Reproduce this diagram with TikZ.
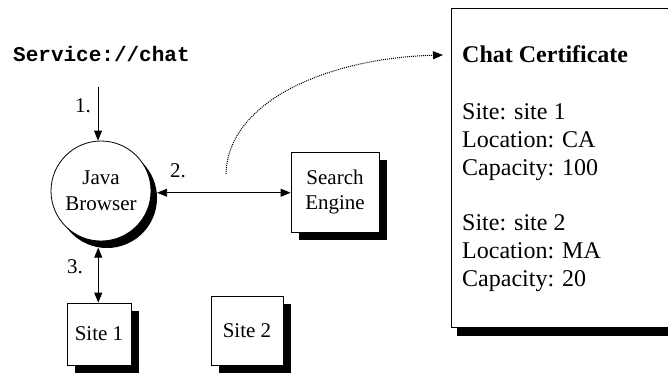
\documentclass[tikz,border=0pt]{standalone}
\usepackage{fontspec}
\setmainfont{Liberation Serif}
\newfontfamily\codefont{Liberation Mono}
\usetikzlibrary{arrows.meta,shadows}
\tikzset{
  tip/.tip={Triangle[length=10pt,width=8pt]},
  lbl/.style={font=\fontsize{21}{26}\selectfont, inner sep=0pt, anchor=base west},
  certline/.style={font=\fontsize{24}{28}\selectfont, inner sep=0pt, anchor=base west},
  outline/.style={draw, line width=0.8pt, fill=white},
  boxed/.style={outline, align=center, inner sep=0pt,
    font=\fontsize{21}{25}\selectfont,
    general shadow={fill=black, shadow xshift=8pt, shadow yshift=-8pt}},
  oneway/.style={line width=0.8pt, -tip},
  twoway/.style={line width=0.8pt, tip-tip},
}
\begin{document}
\begin{tikzpicture}[x=1pt,y=-1pt]
\path[use as bounding box, clip] (0,0) rectangle (668,373);

% service address
\node[inner sep=0pt, anchor=base west, font=\codefont\bfseries\fontsize{21}{21}\selectfont]
  (svc) at (13,61) {Service://chat};

% browser with its shadow
\node[circle, outline, minimum size=100pt, inner sep=0pt, align=center,
  font=\fontsize{21}{26}\selectfont,
  general shadow={fill=black, shadow xshift=6pt, shadow yshift=-7pt}]
  (jb) at (101,191) {Java\\Browser};

% boxes
\node[boxed, minimum width=88pt, minimum height=80pt] (se) at (335,192) {Search\\Engine};
\node[boxed, minimum width=64pt, minimum height=62pt] (site1) at (99,334) {Site 1};
\node[boxed, minimum width=72pt, minimum height=69pt] (site2) at (247,330.5) {Site 2};

% certificate sheet
\node[outline, minimum width=229pt, minimum height=319pt, inner sep=0pt,
  general shadow={fill=black, shadow xshift=6pt, shadow yshift=-9pt}]
  (cert) at (565.5,167.5) {};
\node[certline, font=\bfseries\fontsize{24}{28}\selectfont] (ctitle) at (462,62) {Chat Certificate};
\node[certline] (ca) at (462,119) {Site: site 1};
\node[certline] (cb) at (462,147) {Location: CA};
\node[certline] (cc) at (462,175) {Capacity: 100};
\node[certline] (cd) at (462,230) {Site: site 2};
\node[certline] (ce) at (462,258) {Location: MA};
\node[certline] (cf) at (462,286) {Capacity: 20};

% step 1
\coordinate (a1) at (98,87);
\draw[oneway] (a1) -- (a1 |- jb.north);
\node[lbl] (n1) at (75,112) {1.};

% step 2
\coordinate (jbr) at ([xshift=6pt,yshift=-7pt]jb.6);
\draw[twoway] (jbr) -- (jbr -| se.west);
\node[lbl] (n2) at (170,177) {2.};

% certificate returned
\coordinate (d0) at (226,174);
\coordinate (d1) at (443,55);
\draw[densely dotted, line width=1pt, -tip] (d0) .. controls (228,100) and (330,58) .. (d1);

% step 3
\coordinate (jbb) at ([xshift=6pt,yshift=-7pt]jb.260);
\draw[twoway] (jbb) -- (jbb |- site1.north);
\node[lbl] (n3) at (67,273) {3.};
\end{tikzpicture}
\end{document}
